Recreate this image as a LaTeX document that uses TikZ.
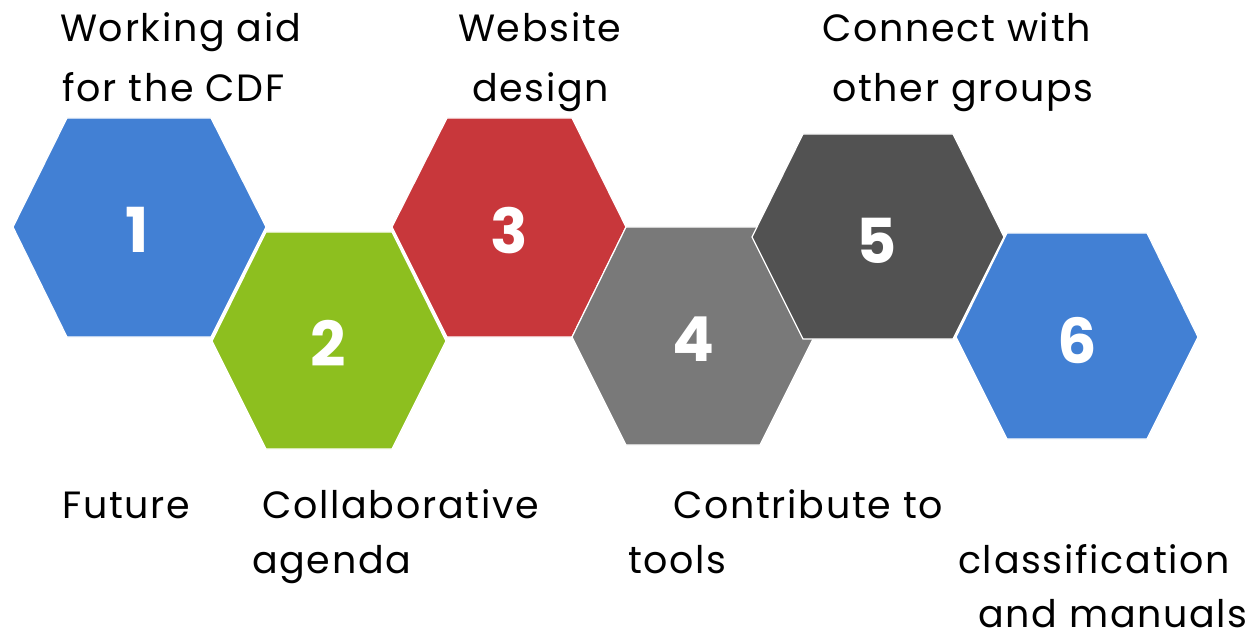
\documentclass[tikz,border=0pt]{standalone}
\usepackage{fontspec}
\setmainfont{Poppins}
\newfontfamily\lblfont[LetterSpace=4.5]{Poppins}
\definecolor{hexblue}{RGB}{66,128,212}
\definecolor{hexgreen}{RGB}{141,191,31}
\definecolor{hexred}{RGB}{200,55,59}
\definecolor{hexgray}{RGB}{121,121,121}
\definecolor{hexdark}{RGB}{82,82,82}
\begin{document}
\begin{tikzpicture}[x=1pt,y=-1pt,
  hex/.style={draw=white,line width=1.2pt,line join=miter},
  num/.style={text=white,font=\fontsize{62}{62}\selectfont\bfseries,inner sep=0pt},
  lbl/.style={anchor=base west,inner sep=0pt,font=\lblfont\fontsize{38}{38}\selectfont}]
\useasboundingbox (0,0) rectangle (1258,636);
\fill[white] (0,0) rectangle (1258,636);
\filldraw[hex,fill=hexblue] (13,227) -- (67,118) -- (211,118) -- (266,227) -- (211,337) -- (67,337) -- cycle;
\filldraw[hex,fill=hexgreen] (212,341) -- (266,232) -- (392,232) -- (446,341) -- (392,449) -- (266,449) -- cycle;
\filldraw[hex,fill=hexred] (392,227) -- (447,118) -- (572,118) -- (626,227) -- (572,337) -- (447,337) -- cycle;
\filldraw[hex,fill=hexgray] (572,337) -- (626,227) -- (760,227) -- (814,337) -- (760,445) -- (626,445) -- cycle;
\filldraw[hex,fill=hexdark] (752,237) -- (803,134) -- (953,134) -- (1004,237) -- (953,339) -- (803,339) -- cycle;
\filldraw[hex,fill=hexblue] (956,337) -- (1007,233) -- (1147,233) -- (1198,337) -- (1147,439) -- (1007,439) -- cycle;
\node[num] (n1) at (137,230) {1};
\node[num] (n2) at (328,343) {2};
\node[num] (n3) at (509,231) {3};
\node[num] (n4) at (693,339) {4};
\node[num] (n5) at (877,241) {5};
\node[num] (n6) at (1077,341) {6};
\node[lbl] (l1a) at (60,42) {Working aid};
\node[lbl] (l1b) at (62,102) {for the CDF};
\node[lbl] (l3a) at (458,42) {Website};
\node[lbl] (l3b) at (472,102) {design};
\node[lbl] (l5a) at (822,42) {Connect with};
\node[lbl] (l5b) at (832,102) {other groups};
\node[lbl] (lf) at (62,518) {Future};
\node[lbl] (l2a) at (262,518) {Collaborative};
\node[lbl] (l2b) at (252,573) {agenda};
\node[lbl] (l4a) at (673,518) {Contribute to};
\node[lbl] (l4b) at (628,573) {tools};
\node[lbl] (l6a) at (958,573) {classification};
\node[lbl] (l6b) at (978,627) {and manuals};
\end{tikzpicture}
\end{document}
